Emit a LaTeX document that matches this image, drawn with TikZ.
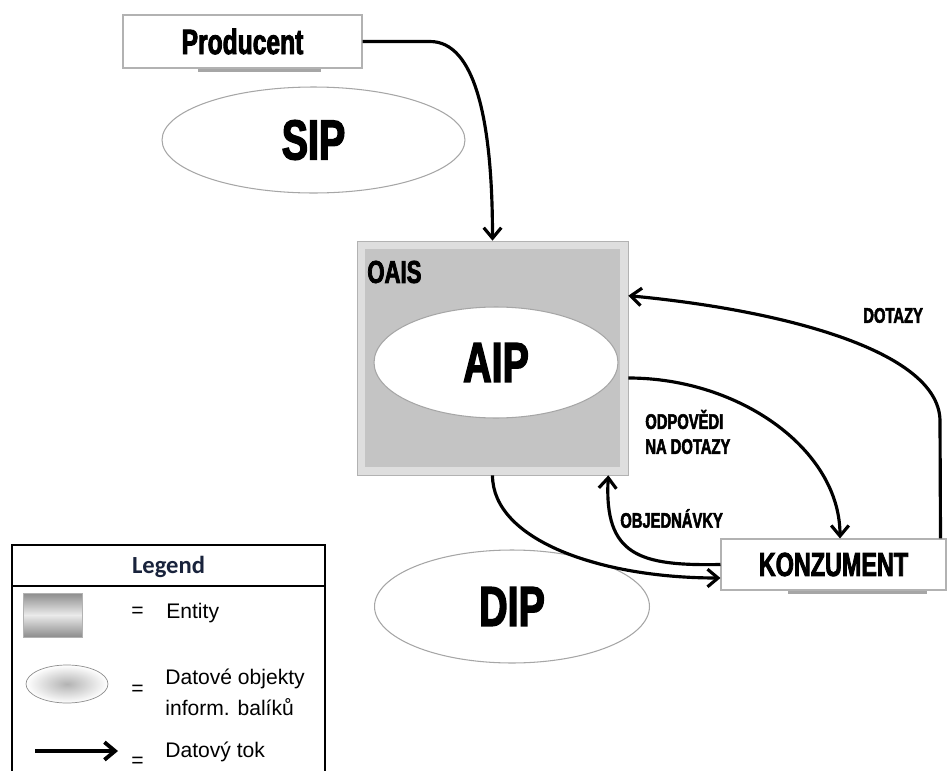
\documentclass[tikz,border=0pt]{standalone}
\usepackage{fontspec}
\setmainfont{Liberation Sans}
\newfontfamily\impactfont[FakeStretch=0.7,BoldFeatures={FakeBold=2.4}]{Liberation Sans}
\newfontfamily\legendfont{Carlito}
\usepackage{tikz}
\usetikzlibrary{shapes.geometric,arrows.meta}

\definecolor{legendblue}{RGB}{25,35,60}

\tikzset{
  whitebox/.style={draw=black!30, fill=white, line width=0.6pt, inner sep=0pt},
  package/.style={ellipse, draw=black!35, fill=white, line width=0.6pt, inner sep=0pt},
  shadowline/.style={draw=black!35, line width=1.2pt},
  flow/.style={->, line width=1.8pt},
  bigtxt/.style={font=\impactfont\bfseries\fontsize{32}{36}\selectfont},
  flowlabel/.style={font=\impactfont\bfseries\fontsize{12}{14.2}\selectfont, inner sep=0pt, anchor=west, align=left},
  legendtxt/.style={font=\fontsize{12}{17.6}\selectfont, inner sep=0pt, anchor=west, align=left}
}

\begin{document}
\begin{tikzpicture}[x=0.02cm, y=-0.02cm, >={Straight Barb[length=6pt,width=10pt]}]
\useasboundingbox (0,0) rectangle (948,771);

% producent and SIP
\node[whitebox, minimum width=4.78cm, minimum height=1.06cm,
  font=\impactfont\bfseries\fontsize{20}{24}\selectfont] (prod) at (242.5,41.5) {Producent};
\draw[shadowline] ([xshift=-0.89cm,yshift=-0.04cm]prod.south) -- ([xshift=1.57cm,yshift=-0.04cm]prod.south);

\node[package, minimum width=6.06cm, minimum height=2.12cm, bigtxt] (sip) at (313.5,140) {SIP};

% archive
\node[draw=black!30, fill=black!13, minimum width=5.42cm, minimum height=4.68cm] (oais) at (492.5,358) {};
\fill[black!23] ([shift={(0.16cm,-0.16cm)}]oais.north west) rectangle ([shift={(-0.16cm,0.16cm)}]oais.south east);
\node[anchor=west, inner sep=0pt, font=\impactfont\bfseries\fontsize{18}{20}\selectfont] (oaislabel) at (367,272) {OAIS};
\node[package, minimum width=4.88cm, minimum height=2.22cm, bigtxt] (aip) at (496,362.5) {AIP};

% konzument and DIP
\node[package, minimum width=5.5cm, minimum height=2.26cm, bigtxt] (dip) at (512,606.5) {DIP};
\node[whitebox, minimum width=4.5cm, minimum height=1.02cm,
  font=\impactfont\bfseries\fontsize{19}{22}\selectfont] (kon) at (833.5,564.5) {KONZUMENT};
\draw[shadowline] ([xshift=-0.91cm,yshift=-0.04cm]kon.south) -- ([xshift=1.87cm,yshift=-0.04cm]kon.south);

% data flows
\draw[flow] (prod.east) -- (430,41.5) .. controls (475,41.5) and (492.5,120) .. (oais.north);
\draw[flow] ([xshift=-0.12cm]kon.north east) -- (940,420) .. controls (938,350) and (780,310) .. ([yshift=-1.1cm]oais.north east);
\draw[flow] ([yshift=-0.4cm]oais.east) .. controls (740,378) and (840,450) .. ([xshift=0.13cm]kon.north);
\draw[flow] (kon.west) .. controls (640,566) and (604,556) .. ([xshift=-0.4cm]oais.south east);
\draw[flow] (oais.south) .. controls (492.5,540) and (600,578) .. ([yshift=-0.27cm]kon.west);

\node[flowlabel] (dotazy) at (863,315.5) {DOTAZY};
\node[flowlabel] (odpovedi) at (645,432) {ODPOVĚDI\\NA DOTAZY};
\node[flowlabel] (objednavky) at (620,518.5) {OBJEDNÁVKY};

% legend
\draw[line width=0.8pt] (12,771) -- (12,545) -- (325,545) -- (325,771);
\draw[line width=0.8pt] (12,586) -- (325,586);
\node[font=\legendfont\bfseries\fontsize{14}{16}\selectfont, text=legendblue] (legend) at (168.5,567) {Legend};

\node[draw=black!30, top color=black!45, bottom color=black!45, middle color=black!8,
  minimum width=1.18cm, minimum height=0.88cm, inner sep=0pt] (entityicon) at (52.5,615) {};
\node[legendtxt] (eq1) at (131,612) {=};
\node[legendtxt] (entitytxt) at (166,613) {Entity};

\node[ellipse, draw=black!45, inner color=black!30, outer color=white,
  minimum width=1.64cm, minimum height=0.76cm, inner sep=0pt] (packicon) at (67,684) {};
\node[legendtxt] (eq2) at (131,690) {=};
\node[legendtxt] (packtxt) at (165,692.5) {Datové objekty\\inform. balíků};

\coordinate (arrowstart) at (35,751);
\coordinate (arrowend) at (118,751);
\draw[->, line width=2.2pt] (arrowstart) -- (arrowend);
\node[legendtxt] (eq3) at (131,762) {=};
\node[legendtxt] (flowtxt) at (165,752) {Datový tok};

\end{tikzpicture}
\end{document}
